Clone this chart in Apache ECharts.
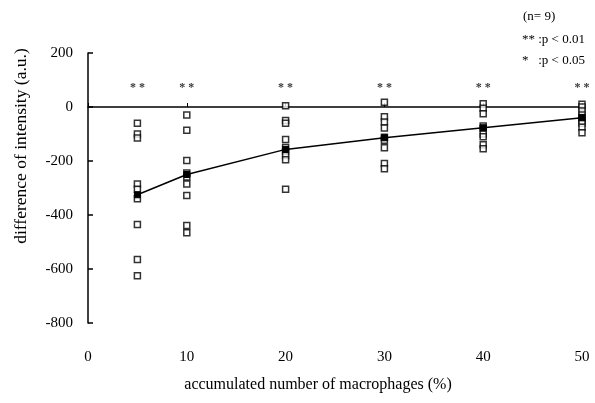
<!DOCTYPE html>
<html>
<head>
<meta charset="utf-8">
<script src="https://cdn.jsdelivr.net/npm/echarts@6/dist/echarts.min.js"></script>
<style>html,body{margin:0;padding:0;background:#fff}#c{width:595px;height:403px}</style>
</head>
<body>
<div id="c"></div>
<script>
// x positions (accumulated number of macrophages, %)
const xCats = [5, 10, 20, 30, 40, 50];
// individual values (n = 9) per x position
const vals5  = [-60, -100, -115, -285, -305, -340, -435, -565, -625];
const vals10 = [-30, -86, -198, -244, -259, -285, -328, -439, -466];
const vals20 = [5, -50, -60, -120, -150, -165, -180, -195, -305];
const vals30 = [18, -36, -56, -78, -112, -123, -151, -209, -229];
const vals40 = [12, -5, -25, -70, -80, -100, -110, -140, -155];
const vals50 = [10, 0, -15, -30, -40, -50, -60, -75, -95];
// mean curve values
const meanVals = [-325, -250, -157, -114, -77, -40];
// significance marks
const sigMarks = ['* *', '* *', '* *', '* *', '* *', '* *'];
const sigLevel = 70;
// axis ticks
const xTicks = [0, 10, 20, 30, 40, 50];
const yTicks = [-800, -600, -400, -200, 0, 200];

const allVals = [vals5, vals10, vals20, vals30, vals40, vals50];
const scatterData = [];
allVals.forEach((arr, i) => arr.forEach(v => scatterData.push([xCats[i], v])));
const meanData = xCats.map((x, i) => [x, meanVals[i]]);
const sigData = xCats.map((x, i) => ({ value: [x, sigLevel], label: { formatter: sigMarks[i] } }));

const font = '"Liberation Serif", "DejaVu Serif", serif';
const xMin = xTicks[0], xMax = xTicks[xTicks.length - 1];
const chart = echarts.init(document.getElementById('c'), null, { renderer: 'canvas' });
chart.setOption({
  animation: false,
  backgroundColor: '#fff',
  grid: { left: 88, right: 13, top: 53, bottom: 80, containLabel: false, outerBoundsMode: 'none' },
  xAxis: [
    {
      type: 'value', position: 'bottom',
      min: xMin, max: xMax, interval: 10,
      axisLine: { show: false, onZero: false },
      axisTick: { show: false },
      axisLabel: { show: true, margin: 27, color: '#000', fontFamily: font, fontSize: 15 },
      splitLine: { show: false }
    },
    {
      type: 'value', position: 'top',
      min: xMin, max: xMax, interval: 10,
      axisLine: { show: true, onZero: true, lineStyle: { color: '#000', width: 1.5 } },
      axisTick: { show: true, inside: false, length: 4, lineStyle: { color: '#000', width: 1 } },
      axisLabel: { show: false },
      splitLine: { show: false }
    }
  ],
  yAxis: {
    type: 'value',
    min: yTicks[0], max: yTicks[yTicks.length - 1], interval: 200,
    axisLine: { show: true, onZero: false, lineStyle: { color: '#000', width: 1.5 } },
    axisTick: { show: true, inside: true, length: 5, lineStyle: { color: '#000', width: 1.5 } },
    axisLabel: { show: true, margin: 15, color: '#000', fontFamily: font, fontSize: 15 },
    splitLine: { show: false }
  },
  series: [
    {
      type: 'scatter',
      data: scatterData,
      symbol: 'rect',
      symbolSize: 6,
      itemStyle: { color: '#fff', borderColor: '#000', borderWidth: 1.5 },
      z: 3
    },
    {
      type: 'line',
      data: meanData,
      symbol: 'rect',
      symbolSize: 6,
      showSymbol: true,
      lineStyle: { color: '#000', width: 1.5 },
      itemStyle: { color: '#000', borderColor: '#000' },
      z: 4
    },
    {
      type: 'scatter',
      data: sigData,
      symbolSize: 0,
      silent: true,
      label: { show: true, position: 'inside', color: '#000', fontFamily: font, fontSize: 12, fontWeight: 'bold' }
    }
  ],
  graphic: [
    { type: 'text', x: 21, y: 146, rotation: Math.PI / 2, style: { text: 'difference of intensity (a.u.)', fill: '#000', font: '17.5px ' + font, textAlign: 'center', textVerticalAlign: 'middle' } },
    { type: 'text', x: 318, y: 385, style: { text: 'accumulated number of macrophages (%)', fill: '#000', font: '16px ' + font, textAlign: 'center', textVerticalAlign: 'middle' } },
    { type: 'text', x: 523, y: 17, style: { text: '(n= 9)', fill: '#000', font: '13px ' + font, textVerticalAlign: 'middle' } },
    { type: 'text', x: 522, y: 40, style: { text: '** :p < 0.01', fill: '#000', font: '13px ' + font, textVerticalAlign: 'middle' } },
    { type: 'text', x: 522, y: 61, style: { text: '*   :p < 0.05', fill: '#000', font: '13px ' + font, textVerticalAlign: 'middle' } }
  ]
});
</script>
</body>
</html>
